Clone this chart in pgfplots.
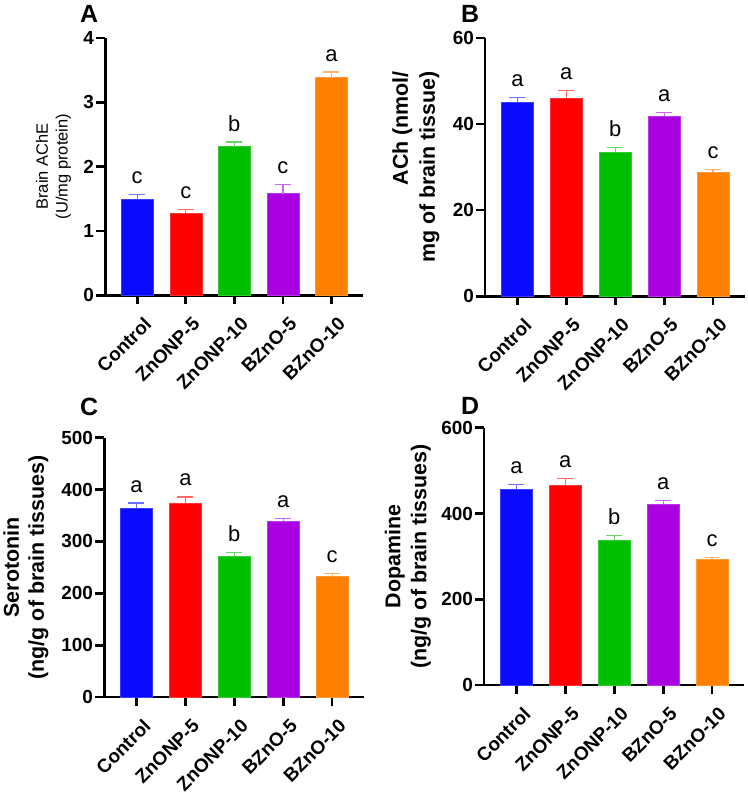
\documentclass[border=0pt]{standalone}
\usepackage{fontspec}
\setmainfont{Liberation Sans}
\usepackage{pgfplots}
\pgfplotsset{compat=1.18}
\definecolor{cB}{RGB}{10,10,255}
\definecolor{cR}{RGB}{255,0,0}
\definecolor{cG}{RGB}{0,190,0}
\definecolor{cP}{RGB}{170,0,225}
\definecolor{cO}{RGB}{255,128,0}
\newcommand\tickfont{\fontsize{19}{20}\selectfont\bfseries}
\newcommand\letfont{\fontsize{22}{23}\selectfont}
\pgfplotsset{prism/.style={
  scale only axis, enlargelimits=false, clip=false,
  axis x line*=bottom, axis y line*=left,
  axis line style={line width=2.7pt,-},
  major tick style={black,line width=2.7pt},
  tick align=outside, major tick length=9pt,
  xmin=-0.66, xmax=4.66, ymin=0,
  xtick={0,1,2,3,4},
  xticklabels={Control,ZnONP-5,ZnONP-10,BZnO-5,BZnO-10},
  xticklabel style={rotate=45, anchor=north east, xshift=-1pt, yshift=-9pt, font=\tickfont},
  yticklabel style={font=\tickfont, inner sep=2pt},
  /pgf/number format/assume math mode=true,
  ybar, bar width=32pt, bar shift=0pt,
  error bars/y dir=plus, error bars/y explicit,
  error bars/error mark=|,
  ylabel style={rotate=0, anchor=center, align=center},
}}
% one bar with its upper error bar
\newcommand\onebar[4]{\addplot[fill=#1, draw=#1!80, error bars/error bar style={color=#1!60, line width=1.3pt},
  error bars/error mark options={color=#1!60, line width=1.3pt, mark size=8pt}]
  coordinates {(#2,#3) +- (0,#4)};}
\newcommand\lab[3]{\node[font=\letfont, anchor=base, yshift=11pt, inner sep=0pt] at (axis cs:#1,#2) {#3};}
\begin{document}
\begin{tikzpicture}
\path (0,0) rectangle (749pt,-797pt);
% ---------- A ----------
\begin{axis}[prism, at={(105pt,-296pt)}, anchor=south west, width=259pt, height=258pt,
  ymax=4, ytick={0,1,2,3,4},
  ylabel={Brain AChE\\(U/mg protein)},
  ylabel style={at={(axis description cs:-0.2,0.5)}, font=\fontsize{16.5}{20}\selectfont}]
\onebar{cB}{0}{1.49}{0.07}
\onebar{cR}{1}{1.28}{0.05}
\onebar{cG}{2}{2.31}{0.07}
\onebar{cP}{3}{1.58}{0.14}
\onebar{cO}{4}{3.39}{0.08}
\lab{0}{1.56}{c}\lab{1}{1.33}{c}\lab{2}{2.38}{b}\lab{3}{1.72}{c}\lab{4}{3.47}{a}
\end{axis}
% ---------- B ----------
\begin{axis}[prism, at={(486pt,-297pt)}, anchor=south west, width=261pt, height=259pt,
  ymax=60, ytick={0,20,40,60},
  ylabel={ACh (nmol/\\mg of brain tissue)},
  ylabel style={at={(axis description cs:-0.266,0.5)}, align=right, font=\fontsize{21.5}{27}\selectfont\bfseries}]
\onebar{cB}{0}{45.0}{1.2}
\onebar{cR}{1}{46.1}{1.7}
\onebar{cG}{2}{33.5}{1.0}
\onebar{cP}{3}{41.9}{0.7}
\onebar{cO}{4}{28.8}{0.6}
\lab{0}{46.2}{a}\lab{1}{47.8}{a}\lab{2}{34.5}{b}\lab{3}{42.6}{a}\lab{4}{29.4}{c}
\end{axis}
% ---------- C ----------
\begin{axis}[prism, at={(104pt,-699pt)}, anchor=south west, width=261pt, height=260pt,
  ymax=500, ytick={0,100,200,300,400,500},
  ylabel={Serotonin\\(ng/g of brain tissues)},
  ylabel style={at={(axis description cs:-0.301,0.5)}, font=\fontsize{21.5}{25}\selectfont\bfseries}]
\onebar{cB}{0}{365}{9}
\onebar{cR}{1}{374}{12}
\onebar{cG}{2}{272}{7}
\onebar{cP}{3}{340}{5}
\onebar{cO}{4}{234}{4}
\lab{0}{374}{a}\lab{1}{386}{a}\lab{2}{279}{b}\lab{3}{345}{a}\lab{4}{238}{c}
\end{axis}
% ---------- D ----------
\begin{axis}[prism, at={(485pt,-687pt)}, anchor=south west, width=261pt, height=258pt,
  ymax=600, ytick={0,200,400,600},
  ylabel={Dopamine\\(ng/g of brain tissues)},
  ylabel style={at={(axis description cs:-0.293,0.5)}, font=\fontsize{21.5}{26}\selectfont\bfseries}]
\onebar{cB}{0}{457}{11}
\onebar{cR}{1}{467}{15}
\onebar{cG}{2}{339}{10}
\onebar{cP}{3}{423}{8}
\onebar{cO}{4}{293}{5}
\lab{0}{468}{a}\lab{1}{482}{a}\lab{2}{349}{b}\lab{3}{431}{a}\lab{4}{298}{c}
\end{axis}
% panel letters
\node[font=\fontsize{25}{26}\selectfont\bfseries] at (89pt,-14pt) {A};
\node[font=\fontsize{25}{26}\selectfont\bfseries] at (471pt,-14pt) {B};
\node[font=\fontsize{25}{26}\selectfont\bfseries] at (89pt,-408pt) {C};
\node[font=\fontsize{25}{26}\selectfont\bfseries] at (471pt,-407pt) {D};
\end{tikzpicture}
\end{document}
